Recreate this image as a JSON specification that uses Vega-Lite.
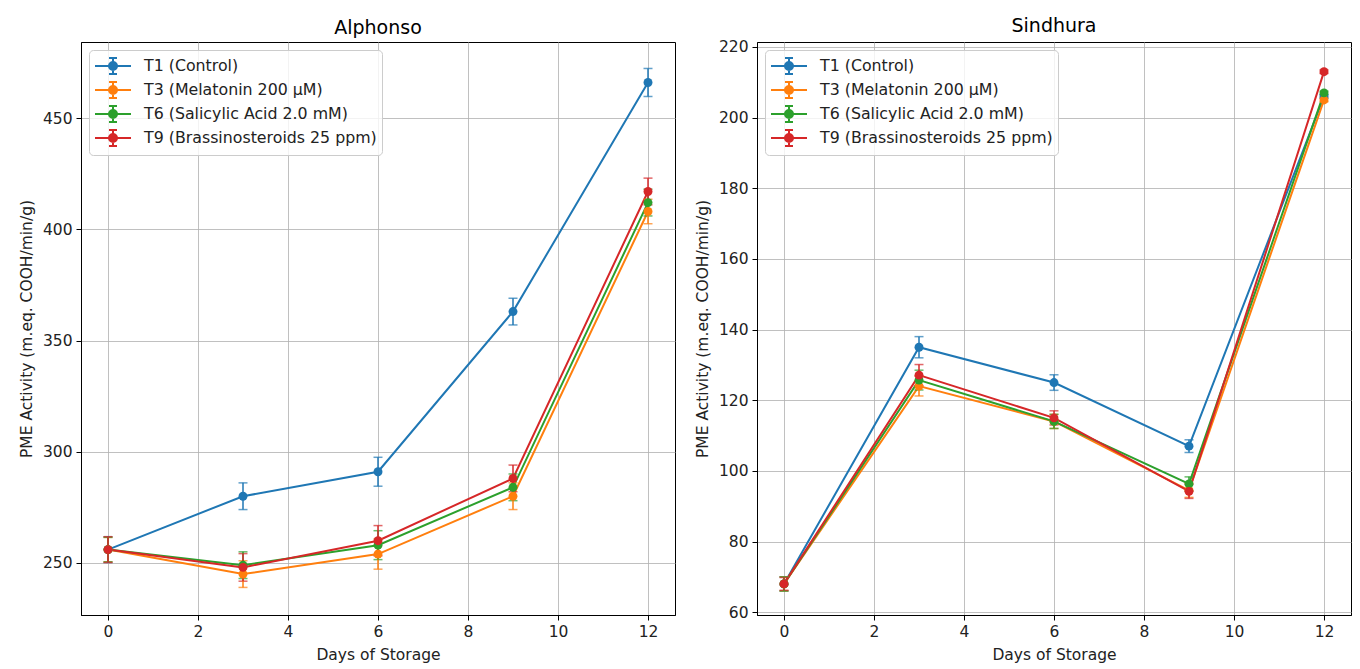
{
  "$schema": "https://vega.github.io/schema/vega-lite/v6.json",
  "background": "white",
  "padding": {"left": 18, "top": 16, "right": 4, "bottom": 2},
  "spacing": 18,
  "datasets": {
    "pme": [
      {"cultivar": "Alphonso", "treatment": "T1 (Control)", "day": 0, "value": 256, "err": 5.8},
      {"cultivar": "Alphonso", "treatment": "T1 (Control)", "day": 3, "value": 280, "err": 6},
      {"cultivar": "Alphonso", "treatment": "T1 (Control)", "day": 6, "value": 291, "err": 6.5},
      {"cultivar": "Alphonso", "treatment": "T1 (Control)", "day": 9, "value": 363, "err": 6},
      {"cultivar": "Alphonso", "treatment": "T1 (Control)", "day": 12, "value": 466, "err": 6.3},
      {"cultivar": "Alphonso", "treatment": "T3 (Melatonin 200 µM)", "day": 0, "value": 256, "err": 5.5},
      {"cultivar": "Alphonso", "treatment": "T3 (Melatonin 200 µM)", "day": 3, "value": 245, "err": 6},
      {"cultivar": "Alphonso", "treatment": "T3 (Melatonin 200 µM)", "day": 6, "value": 254, "err": 6.8},
      {"cultivar": "Alphonso", "treatment": "T3 (Melatonin 200 µM)", "day": 9, "value": 280, "err": 6},
      {"cultivar": "Alphonso", "treatment": "T3 (Melatonin 200 µM)", "day": 12, "value": 408, "err": 5.5},
      {"cultivar": "Alphonso", "treatment": "T6 (Salicylic Acid 2.0 mM)", "day": 0, "value": 256, "err": 5.5},
      {"cultivar": "Alphonso", "treatment": "T6 (Salicylic Acid 2.0 mM)", "day": 3, "value": 249, "err": 6},
      {"cultivar": "Alphonso", "treatment": "T6 (Salicylic Acid 2.0 mM)", "day": 6, "value": 258, "err": 6.5},
      {"cultivar": "Alphonso", "treatment": "T6 (Salicylic Acid 2.0 mM)", "day": 9, "value": 284, "err": 6},
      {"cultivar": "Alphonso", "treatment": "T6 (Salicylic Acid 2.0 mM)", "day": 12, "value": 412, "err": 6},
      {"cultivar": "Alphonso", "treatment": "T9 (Brassinosteroids 25 ppm)", "day": 0, "value": 256, "err": 5.8},
      {"cultivar": "Alphonso", "treatment": "T9 (Brassinosteroids 25 ppm)", "day": 3, "value": 248, "err": 6.2},
      {"cultivar": "Alphonso", "treatment": "T9 (Brassinosteroids 25 ppm)", "day": 6, "value": 260, "err": 6.8},
      {"cultivar": "Alphonso", "treatment": "T9 (Brassinosteroids 25 ppm)", "day": 9, "value": 288, "err": 6},
      {"cultivar": "Alphonso", "treatment": "T9 (Brassinosteroids 25 ppm)", "day": 12, "value": 417, "err": 6},
      {"cultivar": "Sindhura", "treatment": "T1 (Control)", "day": 0, "value": 68, "err": 2},
      {"cultivar": "Sindhura", "treatment": "T1 (Control)", "day": 3, "value": 135, "err": 3},
      {"cultivar": "Sindhura", "treatment": "T1 (Control)", "day": 6, "value": 125, "err": 2.2},
      {"cultivar": "Sindhura", "treatment": "T1 (Control)", "day": 9, "value": 107, "err": 1.8},
      {"cultivar": "Sindhura", "treatment": "T1 (Control)", "day": 12, "value": 206, "err": 0.5},
      {"cultivar": "Sindhura", "treatment": "T3 (Melatonin 200 µM)", "day": 0, "value": 68, "err": 2},
      {"cultivar": "Sindhura", "treatment": "T3 (Melatonin 200 µM)", "day": 3, "value": 124, "err": 2.8},
      {"cultivar": "Sindhura", "treatment": "T3 (Melatonin 200 µM)", "day": 6, "value": 114, "err": 2},
      {"cultivar": "Sindhura", "treatment": "T3 (Melatonin 200 µM)", "day": 9, "value": 94.5, "err": 2},
      {"cultivar": "Sindhura", "treatment": "T3 (Melatonin 200 µM)", "day": 12, "value": 205, "err": 0.5},
      {"cultivar": "Sindhura", "treatment": "T6 (Salicylic Acid 2.0 mM)", "day": 0, "value": 68, "err": 2},
      {"cultivar": "Sindhura", "treatment": "T6 (Salicylic Acid 2.0 mM)", "day": 3, "value": 125.7, "err": 2.8},
      {"cultivar": "Sindhura", "treatment": "T6 (Salicylic Acid 2.0 mM)", "day": 6, "value": 114, "err": 2},
      {"cultivar": "Sindhura", "treatment": "T6 (Salicylic Acid 2.0 mM)", "day": 9, "value": 96.3, "err": 2},
      {"cultivar": "Sindhura", "treatment": "T6 (Salicylic Acid 2.0 mM)", "day": 12, "value": 207, "err": 0.5},
      {"cultivar": "Sindhura", "treatment": "T9 (Brassinosteroids 25 ppm)", "day": 0, "value": 68, "err": 1.8},
      {"cultivar": "Sindhura", "treatment": "T9 (Brassinosteroids 25 ppm)", "day": 3, "value": 127.1, "err": 3},
      {"cultivar": "Sindhura", "treatment": "T9 (Brassinosteroids 25 ppm)", "day": 6, "value": 115, "err": 2},
      {"cultivar": "Sindhura", "treatment": "T9 (Brassinosteroids 25 ppm)", "day": 9, "value": 94.2, "err": 2},
      {"cultivar": "Sindhura", "treatment": "T9 (Brassinosteroids 25 ppm)", "day": 12, "value": 213, "err": 0.5}
    ]
  },
  "hconcat": [
    {
      "title": "Alphonso",
      "width": 594,
      "height": 573,
      "data": {"name": "pme"},
      "transform": [{"filter": "datum.cultivar === 'Alphonso'"}],
      "encoding": {
        "x": {"field": "day", "type": "quantitative", "title": "Days of Storage",
              "scale": {"domain": [-0.6, 12.6], "nice": false, "zero": false},
              "axis": {"values": [0, 2, 4, 6, 8, 10, 12]}},
        "y": {"field": "value", "type": "quantitative", "title": "PME Activity (m.eq. COOH/min/g)",
              "scale": {"domain": [226.6, 484.2], "nice": false, "zero": false},
              "axis": {"values": [250, 300, 350, 400, 450]}}
      },
      "layer": [
        {"mark": {"type": "line", "strokeWidth": 2},
         "encoding": {"color": {"field": "treatment", "type": "nominal",
           "scale": {"domain": ["T1 (Control)", "T3 (Melatonin 200 µM)", "T6 (Salicylic Acid 2.0 mM)", "T9 (Brassinosteroids 25 ppm)"], "range": ["#1f77b4", "#ff7f0e", "#2ca02c", "#d62728"]},
           "legend": {"title": null, "orient": "top-left", "offset": 8}}}},
        {"mark": {"type": "errorbar", "ticks": {"size": 9, "thickness": 1.5}, "rule": {"strokeWidth": 1.5}},
         "encoding": {"yError": {"field": "err"},
           "color": {"field": "treatment", "type": "nominal"}}},
        {"mark": {"type": "point", "filled": true, "opacity": 1, "size": 80, "strokeWidth": 0},
         "encoding": {
           "fill": {"field": "treatment", "type": "nominal", "legend": null,
             "scale": {"domain": ["T1 (Control)", "T3 (Melatonin 200 µM)", "T6 (Salicylic Acid 2.0 mM)", "T9 (Brassinosteroids 25 ppm)"], "range": ["#1f77b4", "#ff7f0e", "#2ca02c", "#d62728"]}}
         }}
      ]
    },
    {
      "title": "Sindhura",
      "width": 594,
      "height": 573,
      "data": {"name": "pme"},
      "transform": [{"filter": "datum.cultivar === 'Sindhura'"}],
      "encoding": {
        "x": {"field": "day", "type": "quantitative", "title": "Days of Storage",
              "scale": {"domain": [-0.6, 12.6], "nice": false, "zero": false},
              "axis": {"values": [0, 2, 4, 6, 8, 10, 12]}},
        "y": {"field": "value", "type": "quantitative", "title": "PME Activity (m.eq. COOH/min/g)",
              "scale": {"domain": [59.2, 221.4], "nice": false, "zero": false},
              "axis": {"values": [60, 80, 100, 120, 140, 160, 180, 200, 220]}}
      },
      "layer": [
        {"mark": {"type": "line", "strokeWidth": 2},
         "encoding": {"color": {"field": "treatment", "type": "nominal",
           "scale": {"domain": ["T1 (Control)", "T3 (Melatonin 200 µM)", "T6 (Salicylic Acid 2.0 mM)", "T9 (Brassinosteroids 25 ppm)"], "range": ["#1f77b4", "#ff7f0e", "#2ca02c", "#d62728"]},
           "legend": {"title": null, "orient": "top-left", "offset": 8}}}},
        {"mark": {"type": "errorbar", "ticks": {"size": 9, "thickness": 1.5}, "rule": {"strokeWidth": 1.5}},
         "encoding": {"yError": {"field": "err"},
           "color": {"field": "treatment", "type": "nominal"}}},
        {"mark": {"type": "point", "filled": true, "opacity": 1, "size": 80, "strokeWidth": 0},
         "encoding": {
           "fill": {"field": "treatment", "type": "nominal", "legend": null,
             "scale": {"domain": ["T1 (Control)", "T3 (Melatonin 200 µM)", "T6 (Salicylic Acid 2.0 mM)", "T9 (Brassinosteroids 25 ppm)"], "range": ["#1f77b4", "#ff7f0e", "#2ca02c", "#d62728"]}}
         }}
      ]
    }
  ],
  "resolve": {
    "scale": {"color": "independent", "fill": "independent", "y": "independent"},
    "legend": {"color": "independent", "fill": "independent"}
  },
  "config": {
    "font": "DejaVu Sans",
    "view": {"stroke": "black", "strokeWidth": 1},
    "title": {"fontSize": 19, "fontWeight": "normal", "color": "black", "offset": 4, "font": "DejaVu Sans"},
    "axis": {
      "labelFontSize": 15.5, "labelColor": "#222", "titleFontSize": 15.5, "titleFontWeight": "normal",
      "titleColor": "#222", "tickColor": "black", "domainColor": "black", "tickSize": 5,
      "gridColor": "#b0b0b0", "gridWidth": 1, "gridOpacity": 0.8, "labelPadding": 4, "titlePadding": 8,
      "labelFont": "DejaVu Sans", "titleFont": "DejaVu Sans"
    },
    "legend": {
      "labelFontSize": 15.8, "labelColor": "#222", "labelFont": "DejaVu Sans", "labelLimit": 400,
      "symbolType": "M-1,0H2.6M0.8,-0.8V0.8M0.4,-0.8H1.2M0.4,0.8H1.2M1.2,0A0.4,0.4 0 1,1 0.4,0A0.4,0.4 0 1,1 1.2,0M1.02,0A0.22,0.22 0 1,1 0.58,0A0.22,0.22 0 1,1 1.02,0M0.86,0A0.06,0.06 0 1,1 0.74,0A0.06,0.06 0 1,1 0.86,0",
      "symbolSize": 400, "symbolStrokeWidth": 2, "symbolOpacity": 1, "symbolFillColor": "transparent",
      "fillColor": "rgba(255,255,255,0.8)", "strokeColor": "#cccccc", "cornerRadius": 4,
      "padding": 5, "rowPadding": 0, "labelOffset": 28
    }
  }
}
